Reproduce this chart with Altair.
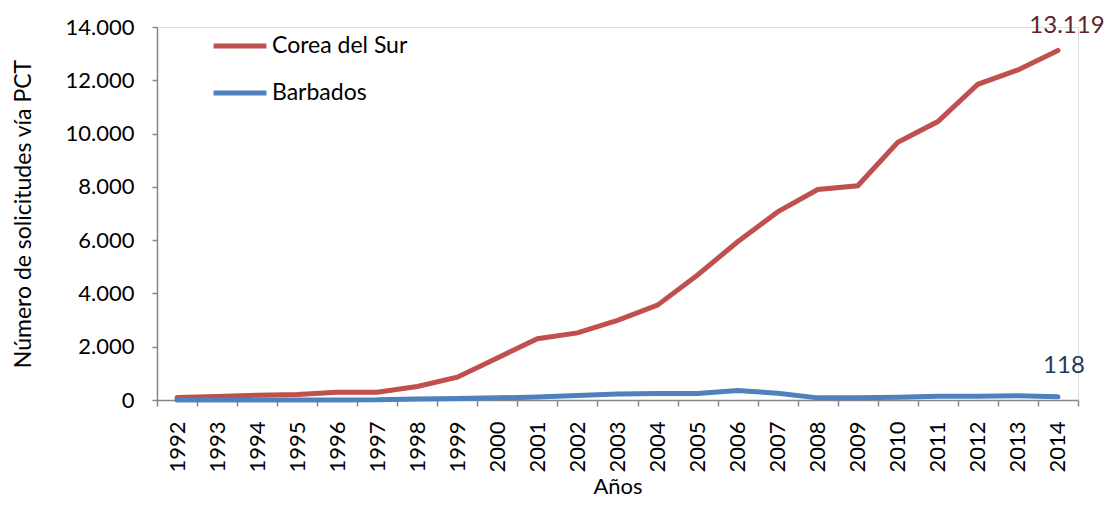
import altair as alt
import pandas as pd

years = [str(y) for y in range(1992, 2015)]
corea = [90, 130, 180, 205, 290, 290, 505, 855, 1580, 2300, 2520, 2990, 3560,
         4690, 5940, 7060, 7900, 8040, 9670, 10450, 11850, 12390, 13119]
barbados = [0, 1, 2, 3, 4, 5, 40, 60, 80, 110, 170, 225, 245,
            245, 360, 250, 80, 80, 100, 140, 140, 160, 118]
series_names = ["Corea del Sur", "Barbados"]
series_colors = ["#C0504D", "#4F81BD"]
label_colors = ["#632523", "#1F3A60"]

rows = []
for y, v in zip(years, corea):
    rows.append({"Año": y, "Serie": series_names[0], "Valor": v})
for y, v in zip(years, barbados):
    rows.append({"Año": y, "Serie": series_names[1], "Valor": v})
df = pd.DataFrame(rows)

FONT = "Lato"
GRAY = "#868686"

x_enc = alt.X("Año:N", sort=years,
              scale=alt.Scale(type="band", paddingInner=0, paddingOuter=0),
              axis=alt.Axis(title="Años", labelAngle=270, labelFontSize=22,
                            labelFont=FONT, labelColor="#000000", labelPadding=15,
                            tickBand="extent", tickSize=6, tickColor=GRAY,
                            domainColor=GRAY, domainWidth=1.5, tickWidth=1.5,
                            titleFontSize=22, titleFont=FONT, titleFontWeight="normal",
                            titleColor="#000000", titlePadding=4,
                            labelBaseline="middle", labelAlign="right"))
y_enc = alt.Y("Valor:Q",
              scale=alt.Scale(domain=[0, 14000], nice=False),
              axis=alt.Axis(title="Número de solicitudes vía PCT",
                            values=[0, 2000, 4000, 6000, 8000, 10000, 12000, 14000],
                            labelExpr="replace(format(datum.value, ','), ',', '.')",
                            labelFontSize=22, labelFont=FONT, labelColor="#000000",
                            labelPadding=18, tickSize=5, tickColor=GRAY, tickWidth=1.5,
                            domainColor=GRAY, domainWidth=1.5, grid=False,
                            titleFontSize=23, titleFont=FONT, titleFontWeight="normal",
                            titleColor="#000000", titlePadding=30))

lines = alt.Chart(df).mark_line(strokeWidth=5, strokeCap="round").encode(
    x=x_enc,
    y=y_enc,
    color=alt.Color("Serie:N", sort=series_names,
                    scale=alt.Scale(domain=series_names, range=series_colors),
                    legend=alt.Legend(title=None, orient="none", legendX=54, legendY=-10,
                                      symbolType="stroke", symbolSize=2800,
                                      symbolStrokeWidth=5, labelFontSize=23,
                                      labelFont=FONT, labelColor="#000000",
                                      labelOffset=3, rowPadding=6, padding=0)),
)

base_lbl = alt.Chart(df).transform_filter(
    alt.datum["Año"] == years[-1]
).transform_calculate(
    lbl="replace(format(datum.Valor, ','), ',', '.')"
)

lbl_corea = base_lbl.transform_filter(alt.datum.Serie == series_names[0]).mark_text(
    font=FONT, fontSize=24, color=label_colors[0], dx=9, dy=-17, baseline="alphabetic",
    align="center").encode(x=alt.X("Año:N", sort=years), y="Valor:Q", text="lbl:N")

lbl_barb = base_lbl.transform_filter(alt.datum.Serie == series_names[1]).mark_text(
    font=FONT, fontSize=24, color=label_colors[1], dx=6, dy=-24, baseline="alphabetic",
    align="center").encode(x=alt.X("Año:N", sort=years), y="Valor:Q", text="lbl:N")

chart = alt.layer(lines, lbl_corea, lbl_barb).properties(
    width=921, height=373,
    autosize=alt.AutoSizeParams(type="none"),
    padding={"left": 149, "top": 19, "right": 26, "bottom": 98},
).configure_view(stroke=None).configure(background="#ffffff")

chart.save("out.html", embed_options={"renderer": "svg", "actions": False})
